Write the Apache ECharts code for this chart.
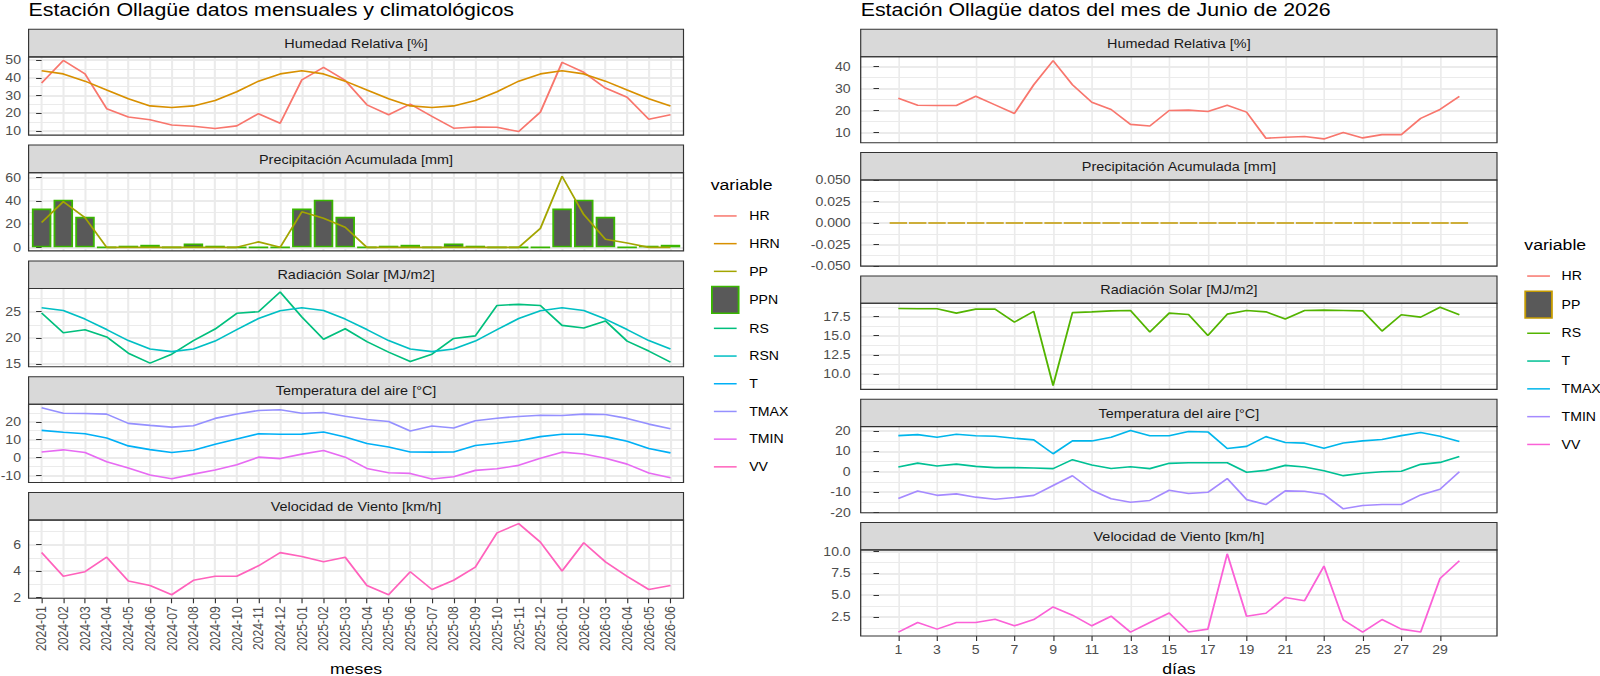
<!DOCTYPE html>
<html>
<head>
<meta charset="utf-8">
<script src="https://cdn.jsdelivr.net/npm/echarts@6/dist/echarts.min.js"></script>
<style>
html, body { margin: 0; padding: 0; background: #fff; overflow: hidden; }
/* the reference is stretched sideways, so the chart is drawn narrower and scaled in x */
#chart { width: 1430px; height: 676px; transform: scaleX(1.155); transform-origin: 0 0; }
</style>
</head>
<body>
<div id="chart"></div>
<script>
var SX = 1.155;
function X(v) { return v / SX; }
var FONT = '"Liberation Sans", Arial, sans-serif';

/* ---- monthly data (left) ---- */
var months = ['2024-01','2024-02','2024-03','2024-04','2024-05','2024-06','2024-07','2024-08','2024-09','2024-10','2024-11','2024-12',
              '2025-01','2025-02','2025-03','2025-04','2025-05','2025-06','2025-07','2025-08','2025-09','2025-10','2025-11','2025-12',
              '2026-01','2026-02','2026-03','2026-04','2026-05','2026-06'];
var HR   = [37.0, 49.8, 42.2, 22.5, 17.8, 16.3, 13.3, 12.6, 11.3, 12.8, 19.7, 14.3,
            38.8, 45.9, 38.5, 24.7, 19.1, 25.1, 18.2, 11.5, 12.2, 12.0, 9.6, 20.6,
            48.7, 43.1, 34.2, 29.0, 16.5, 19.1];
var HRN  = [44.0, 42.2, 38.1, 33.1, 28.2, 24.1, 23.2, 24.1, 27.1, 32.1, 38.1, 42.2,
            44.0, 42.2, 38.1, 33.1, 28.2, 24.1, 23.2, 24.1, 27.1, 32.1, 38.1, 42.2,
            44.0, 42.2, 38.1, 33.1, 28.2, 24.1];
var PP   = [21.3, 39.3, 25.6, 0, 0, 0, 0, 0, 0, 0, 4.7, 0,
            30.5, 25.0, 17.3, 0, 0, 0, 0, 0, 0, 0, 0, 16.3,
            61.1, 28.2, 7.0, 3.7, 0, 0];
var PPN  = [33.3, 41.0, 26.2, 0, 1.4, 2.2, 0, 3.3, 1.4, 0, 0, 0,
            33.3, 41.0, 26.2, 0, 1.4, 2.2, 0, 3.3, 1.4, 0, 0, 0,
            33.3, 41.0, 26.2, 0, 1.4, 2.2];
var RS   = [24.75, 21.0, 21.56, 20.2, 17.1, 15.2, 16.9, 19.5, 21.7, 24.7, 25.0, 28.75,
            24.0, 19.75, 21.75, 19.3, 17.3, 15.5, 16.9, 19.9, 20.4, 26.2, 26.4, 26.2,
            22.4, 21.9, 23.25, 19.4, 17.5, 15.4];
var RSN  = [25.75, 25.25, 23.6, 21.6, 19.5, 17.9, 17.4, 17.9, 19.4, 21.6, 23.7, 25.2,
            25.75, 25.25, 23.6, 21.6, 19.5, 17.9, 17.4, 17.9, 19.4, 21.6, 23.7, 25.2,
            25.75, 25.25, 23.6, 21.6, 19.5, 17.9];
var T    = [15.2, 14.1, 13.3, 10.9, 6.5, 4.4, 2.8, 4.1, 7.4, 10.4, 13.3, 13.0,
            13.1, 14.3, 11.5, 7.8, 5.9, 3.1, 3.0, 3.1, 6.7, 8.0, 9.4, 11.7,
            13.0, 13.0, 11.7, 9.1, 5.0, 2.6];
var TMAX = [27.8, 24.8, 24.6, 24.3, 19.1, 18.0, 17.0, 17.8, 21.9, 24.4, 26.3, 26.7,
            24.8, 25.2, 23.1, 21.3, 20.2, 14.8, 17.6, 16.5, 20.6, 22.0, 23.0, 23.7,
            23.5, 24.3, 24.1, 21.9, 18.7, 16.1];
var TMIN = [3.1, 4.3, 2.8, -2.4, -5.9, -9.8, -11.9, -9.3, -7.0, -4.1, 0.2, -0.6,
            1.9, 3.9, 0.2, -6.1, -8.5, -8.9, -12.0, -10.8, -7.2, -6.3, -4.4, -0.4,
            3.0, 2.0, -0.4, -3.7, -8.7, -11.3];
var VV   = [5.4, 3.6, 3.95, 5.05, 3.25, 2.9, 2.2, 3.3, 3.6, 3.6, 4.4, 5.4,
            5.1, 4.7, 5.05, 2.9, 2.2, 3.95, 2.6, 3.3, 4.3, 6.9, 7.6, 6.2,
            4.0, 6.15, 4.7, 3.6, 2.6, 2.9];

/* ---- daily data, June 2026 (right) ---- */
var days  = [1,2,3,4,5,6,7,8,9,10,11,12,13,14,15,16,17,18,19,20,21,22,23,24,25,26,27,28,29,30];
var HRd   = [25.6, 22.45, 22.3, 22.3, 26.5, 22.6, 18.7, 31.75, 42.7, 31.75, 23.8, 20.5, 13.75, 13.0, 20.05,
             20.2, 19.6, 22.45, 19.3, 7.45, 7.9, 8.2, 7.15, 10.0, 7.6, 9.1, 9.1, 16.45, 20.5, 26.5];
var PPd   = [0,0,0,0,0,0,0,0,0,0,0,0,0,0,0,0,0,0,0,0,0,0,0,0,0,0,0,0,0,0];
var RSd   = [18.53, 18.5, 18.5, 17.93, 18.45, 18.45, 16.77, 18.15, 8.53, 18.0, 18.1, 18.23, 18.28, 15.47, 17.93,
             17.76, 15.04, 17.8, 18.28, 18.1, 17.16, 18.28, 18.32, 18.28, 18.23, 15.6, 17.72, 17.41, 18.7, 17.72];
var Td    = [2.3, 4.2, 2.8, 3.7, 2.6, 2.0, 2.0, 1.8, 1.5, 5.9, 3.25, 1.6, 2.4, 1.5, 4.1,
             4.4, 4.4, 4.4, -0.3, 0.65, 3.1, 2.3, 0.5, -1.95, -0.8, 0.0, 0.2, 3.6, 4.55, 7.5];
var TMAXd = [17.7, 18.2, 16.9, 18.4, 17.6, 17.4, 16.4, 15.6, 8.8, 15.1, 15.1, 16.9, 20.2, 17.6, 17.6,
             19.7, 19.5, 11.4, 12.4, 17.2, 14.3, 14.0, 11.5, 14.1, 15.1, 15.8, 17.7, 19.2, 17.4, 14.8];
var TMINd = [-13.2, -9.5, -11.6, -10.9, -12.5, -13.5, -12.7, -11.6, -6.8, -2.0, -9.1, -13.3, -15.0, -14.1, -9.1,
             -10.7, -10.1, -3.4, -13.7, -16.1, -9.4, -9.6, -11.1, -18.2, -16.6, -16.1, -16.1, -11.4, -8.6, 0.0];
var VVd   = [0.76, 1.86, 1.1, 1.86, 1.86, 2.23, 1.48, 2.2, 3.64, 2.7, 1.48, 2.58, 0.76, 1.86, 2.95,
             0.76, 1.1, 9.73, 2.58, 2.92, 4.73, 4.36, 8.33, 2.16, 0.76, 2.2, 1.1, 0.76, 6.9, 8.94];

var facetNames = ['Humedad Relativa [%]', 'Precipitación Acumulada [mm]', 'Radiación Solar [MJ/m2]',
                  'Temperatura del aire [°C]', 'Velocidad de Viento [km/h]'];

/* layout, in final (stretched) pixels for x */
var LEFT  = { x0: 28.6, x1: 683.5, top: 29.3, step: 115.8, strip: 27.6, panel: 78.2, labelGap: 7.6,
              xmin: -0.6, xmax: 29.6, title: 'Estación Ollagüe datos mensuales y climatológicos', axisName: 'meses' };
var RIGHT = { x0: 860.7, x1: 1497, top: 29.3, step: 123.3, strip: 27.4, panel: 86.1, labelGap: 10,
              xmin: -0.945, xmax: 31.945, title: 'Estación Ollagüe datos del mes de Junio de 2026', axisName: 'días' };

var monthIdx = months.map(function (m, i) { return i; });
var oddDays = days.filter(function (d) { return d % 2 === 1 && d < 30; });

var leftFacets = [
  { step: 10, digits: 0, items: [{ name: 'HR', values: HR, color: '#F8766D' }, { name: 'HRN', values: HRN, color: '#D89000' }] },
  { step: 20, digits: 0, items: [{ name: 'PPN', values: PPN, color: '#595959', border: '#39B600', bar: true }, { name: 'PP', values: PP, color: '#A3A500' }] },
  { step: 5, digits: 0, items: [{ name: 'RS', values: RS, color: '#00BF7D' }, { name: 'RSN', values: RSN, color: '#00BFC4' }] },
  { step: 10, digits: 0, items: [{ name: 'T', values: T, color: '#00B0F6' }, { name: 'TMAX', values: TMAX, color: '#9590FF' }, { name: 'TMIN', values: TMIN, color: '#E76BF3' }] },
  { step: 2, digits: 0, items: [{ name: 'VV', values: VV, color: '#FF62BC' }] }
];
var rightFacets = [
  { step: 10, digits: 0, items: [{ name: 'HR_d', values: HRd, color: '#F8766D' }] },
  { step: 0.025, digits: 3, items: [{ name: 'PP_d', values: PPd, color: '#595959', border: '#C49A00', bar: true }] },
  { step: 2.5, digits: 1, items: [{ name: 'RS_d', values: RSd, color: '#53B400' }] },
  { step: 10, digits: 0, items: [{ name: 'T_d', values: Td, color: '#00C094' }, { name: 'TMAX_d', values: TMAXd, color: '#00B6EB' }, { name: 'TMIN_d', values: TMINd, color: '#A58AFF' }] },
  { step: 2.5, digits: 1, items: [{ name: 'VV_d', values: VVd, color: '#FB61D7' }] }
];

var grids = [], xAxes = [], yAxes = [], series = [], elements = [];
var GRID_LINE = '#EBEBEB';

function addFacet(side, k, facet, xs, isLeft) {
  var gi = grids.length;
  var sTop = side.top + side.step * k;
  var pTop = sTop + side.strip;
  var w = side.x1 - side.x0;
  var bottom = (k === 4);

  grids.push({ left: X(side.x0), top: pTop, width: X(w), height: side.panel, outerBoundsMode: 'none', containLabel: false });

  // strip
  elements.push({ type: 'rect', z: 50, shape: { x: X(side.x0), y: sTop, width: X(w), height: side.strip },
                  style: { fill: '#D9D9D9', stroke: '#333333', lineWidth: 1 } });
  elements.push({ type: 'text', z: 51, x: X(side.x0 + w / 2), y: sTop + side.strip / 2 + 0.5,
                  style: { text: facetNames[k], fontSize: 12.5, fontFamily: FONT, fill: '#1A1A1A', align: 'center', verticalAlign: 'middle' } });
  // panel border on top of everything
  elements.push({ type: 'rect', z: 100, shape: { x: X(side.x0), y: pTop, width: X(w), height: side.panel },
                  style: { fill: 'none', stroke: '#333333', lineWidth: 1.1 } });

  xAxes.push({
    type: 'value', gridIndex: gi, min: side.xmin, max: side.xmax, minInterval: 1, maxInterval: 1,
    axisLine: { show: false },
    splitLine: { show: true, lineStyle: { color: GRID_LINE, width: isLeft ? 1.8 : 1.4 } },
    axisTick: { show: bottom, length: 5, customValues: isLeft ? monthIdx : oddDays, lineStyle: { color: '#333333', width: 1 } },
    axisLabel: { show: bottom, customValues: isLeft ? monthIdx : oddDays, fontSize: 12.2, fontFamily: FONT, color: '#4D4D4D',
                 margin: 8, rotate: isLeft ? 90 : 0,
                 formatter: isLeft ? function (v) { return months[Math.round(v)]; } : function (v) { return String(v); } }
  });

  var all = [];
  facet.items.forEach(function (it) { all = all.concat(it.values); if (it.bar) all.push(0); });
  var lo = Math.min.apply(null, all), hi = Math.max.apply(null, all);
  var pad = (hi - lo) > 0 ? (hi - lo) * 0.05 : 0.05;
  var ymin = lo - pad, ymax = hi + pad;
  var majors = [];
  for (var j = Math.ceil(ymin / facet.step - 1e-9); j * facet.step <= ymax + 1e-9; j++) majors.push(+(j * facet.step).toFixed(6));
  var digits = facet.digits;

  yAxes.push({
    type: 'value', gridIndex: gi, min: ymin, max: ymax, minInterval: facet.step, maxInterval: facet.step,
    axisLine: { show: false },
    splitLine: { show: true, lineStyle: { color: GRID_LINE, width: 1.8 } },
    minorTick: { show: false, splitNumber: 2 },
    minorSplitLine: { show: true, lineStyle: { color: GRID_LINE, width: 0.9 } },
    axisTick: { show: true, length: X(5.5), customValues: majors, lineStyle: { color: '#333333', width: 1 } },
    axisLabel: { customValues: majors, fontSize: 12.2, fontFamily: FONT, color: '#4D4D4D', margin: X(side.labelGap),
                 formatter: function (v) { return (+v).toFixed(digits).replace(/^-0(\.0+)?$/, '0$1'); } }
  });

  facet.items.forEach(function (it) {
    var data = xs.map(function (x, i) { return [x, it.values[i]]; });
    if (it.bar) {
      series.push({ type: 'bar', name: it.name, xAxisIndex: gi, yAxisIndex: gi, data: data, barWidth: '90%', z: 2,
                    itemStyle: { color: it.color, borderColor: it.border, borderWidth: 1.6 }, silent: true });
    } else {
      series.push({ type: 'line', name: it.name, xAxisIndex: gi, yAxisIndex: gi, data: data, z: 3,
                    symbol: 'none', showSymbol: false, silent: true,
                    lineStyle: { color: it.color, width: 1.6 }, itemStyle: { color: it.color } });
    }
  });
}

leftFacets.forEach(function (f, k) { addFacet(LEFT, k, f, monthIdx, true); });
rightFacets.forEach(function (f, k) { addFacet(RIGHT, k, f, days, false); });

// plot titles and axis titles
[LEFT, RIGHT].forEach(function (side) {
  elements.push({ type: 'text', z: 60, x: X(side.x0), y: 10,
                  style: { text: side.title, fontSize: 18.5, fontFamily: FONT, fill: '#000', align: 'left', verticalAlign: 'middle' } });
  elements.push({ type: 'text', z: 60, x: X((side.x0 + side.x1) / 2), y: 668.5,
                  style: { text: side.axisName, fontSize: 15.3, fontFamily: FONT, fill: '#000', align: 'center', verticalAlign: 'middle' } });
});
// legend titles
elements.push({ type: 'text', z: 60, x: X(710.7), y: 185,
                style: { text: 'variable', fontSize: 15.3, fontFamily: FONT, fill: '#000', align: 'left', verticalAlign: 'middle' } });
elements.push({ type: 'text', z: 60, x: X(1524.3), y: 245,
                style: { text: 'variable', fontSize: 15.3, fontFamily: FONT, fill: '#000', align: 'left', verticalAlign: 'middle' } });

// legend keys: the invisible first two moves fix the key box (key + gap to the label)
var LINE_L = 'path://M0,0M273,267M17,126L214,126L214,141L17,141Z';
var BOX_L  = 'path://M0,0M273,267M0,0L231,0L231,267L0,267Z';
var LINE_R = 'path://M0,0M265,267M17,126L214,126L214,141L17,141Z';
var BOX_R  = 'path://M0,0M265,267M0,0L231,0L231,267L0,267Z';
var legendText = { fontSize: 12.2, fontFamily: FONT, color: '#000' };

var leftLegend = ['HR', 'HRN', 'PP', { name: 'PPN', icon: BOX_L, itemStyle: { borderWidth: 1.6 } }, 'RS', 'RSN', 'T', 'TMAX', 'TMIN', 'VV'];
var rightLegend = ['HR_d', { name: 'PP_d', icon: BOX_R, itemStyle: { borderWidth: 1.6 } }, 'RS_d', 'T_d', 'TMAX_d', 'TMIN_d', 'VV_d'];

var chart = echarts.init(document.getElementById('chart'), null, { renderer: 'svg' });
chart.setOption({
  animation: false,
  backgroundColor: '#ffffff',
  textStyle: { fontFamily: FONT },
  grid: grids,
  xAxis: xAxes,
  yAxis: yAxes,
  series: series,
  legend: [
    { orient: 'vertical', left: X(711), top: 202.6, padding: 0, itemWidth: 27.3, itemHeight: 26.7, itemGap: 1.0,
      selectedMode: false, icon: LINE_L, symbolKeepAspect: true, itemStyle: { borderWidth: 0 }, data: leftLegend,
      textStyle: legendText },
    { orient: 'vertical', left: X(1524.3), top: 262.7, padding: 0, itemWidth: 26.5, itemHeight: 26.7, itemGap: 1.1,
      selectedMode: false, icon: LINE_R, symbolKeepAspect: true, itemStyle: { borderWidth: 0 }, data: rightLegend,
      formatter: function (n) { return n.replace('_d', ''); },
      textStyle: legendText }
  ],
  graphic: { elements: elements }
});
</script>
</body>
</html>
